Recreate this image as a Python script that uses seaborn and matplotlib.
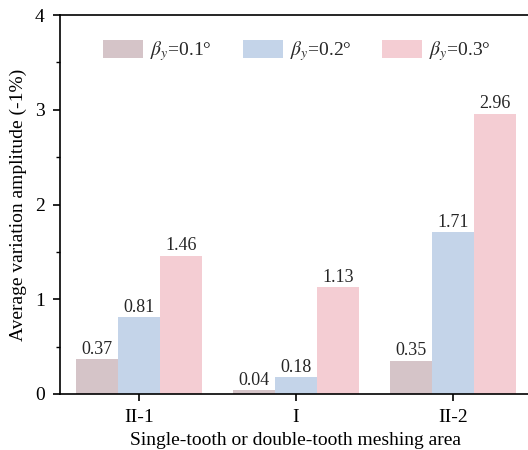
import matplotlib
matplotlib.use("Agg")
import matplotlib.pyplot as plt
import seaborn as sns
import pandas as pd
from matplotlib.ticker import MultipleLocator

categories = ["II-1", "I", "II-2"]
series_names = [r"$\beta_y$=0.1°", r"$\beta_y$=0.2°", r"$\beta_y$=0.3°"]
vals_01 = [0.37, 0.04, 0.35]
vals_02 = [0.81, 0.18, 1.71]
vals_03 = [1.46, 1.13, 2.96]
colors = ["#D5C4C8", "#C4D4E9", "#F4CDD3"]
y_ticks = [0, 1, 2, 3, 4]

rows = []
for name, vals in zip(series_names, [vals_01, vals_02, vals_03]):
    for c, v in zip(categories, vals):
        rows.append({"area": c, "series": name, "value": v})
df = pd.DataFrame(rows)

sns.set_style("ticks")
plt.rcParams["font.family"] = ["Liberation Serif", "DejaVu Serif"]
plt.rcParams["mathtext.fontset"] = "stix"

fig = plt.figure(figsize=(5.28, 4.5), dpi=100)
ax = fig.add_axes([60 / 528, 56 / 450, 472 / 528, 379 / 450])

sns.barplot(data=df, x="area", y="value", hue="series", order=categories,
            hue_order=series_names, palette=colors, width=0.8, saturation=1,
            edgecolor="none", linewidth=0, ax=ax, legend=True)

for cont in ax.containers:
    ax.bar_label(cont, fmt="%.2f", fontsize=13, padding=1)

ax.set_ylim(0, 4)
ax.set_xlim(-0.503, 2.503)
ax.set_yticks(y_ticks)
ax.yaxis.set_minor_locator(MultipleLocator(0.5))
ax.tick_params(axis="both", which="major", direction="out", length=5, width=1.2,
               labelsize=14, color="black", labelcolor="black", pad=6)
ax.tick_params(axis="y", which="minor", direction="out", length=3, width=1, color="black")
ax.tick_params(axis="x", which="minor", bottom=False)
for s in ax.spines.values():
    s.set_linewidth(1.2)
    s.set_color("black")

ax.set_xlabel("Single-tooth or double-tooth meshing area", fontsize=14, labelpad=4,
              color="black")
ax.set_ylabel("Average variation amplitude (-1%)", fontsize=14, labelpad=6,
              color="black")

ax.legend(loc="center left", bbox_to_anchor=(0.091, 0.905), ncol=3, frameon=False,
          fontsize=14, handlelength=2.05, handleheight=1.03, columnspacing=1.6,
          handletextpad=0.36, borderpad=0, borderaxespad=0)

fig.savefig("out.png", dpi=100)
